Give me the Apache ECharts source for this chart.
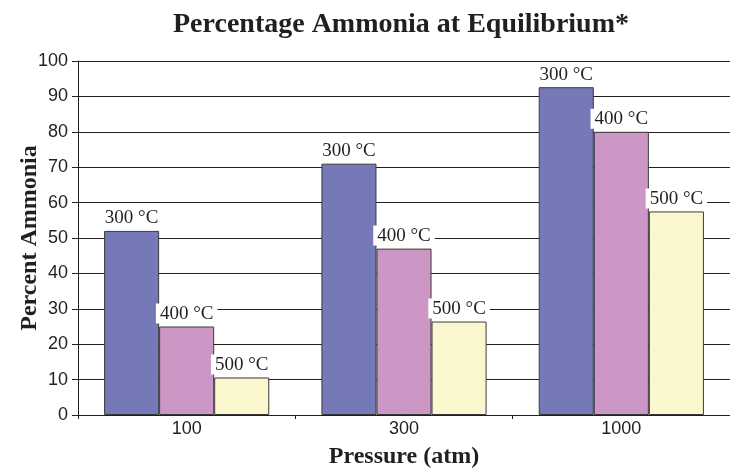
<!DOCTYPE html>
<html><head><meta charset="utf-8">
<script src="https://cdn.jsdelivr.net/npm/echarts@6/dist/echarts.min.js"></script>
<style>html,body{margin:0;padding:0;background:#fff}#c{width:730px;height:468px}</style>
</head><body><div id="c"></div>
<script>
const categories = ['100', '300', '1000'];
const seriesNames = ['300 °C', '400 °C', '500 °C'];
const values300 = [52, 71, 92.6];
const values400 = [25, 47, 80];
const values500 = [10.6, 26.4, 57.5];
const yTicks = [0, 10, 20, 30, 40, 50, 60, 70, 80, 90, 100];

const colors = ['#7579b8', '#cc97c5', '#fbf8d0'];
const serif = '"Liberation Serif", "DejaVu Serif", serif';
const sans = '"Liberation Sans", Arial, sans-serif';

const chart = echarts.init(document.getElementById('c'), null, {renderer: 'canvas'});
const dataSets = [values300, values400, values500];
chart.setOption({
  animation: false,
  backgroundColor: '#fff',
  title: {
    text: 'Percentage Ammonia at Equilibrium*',
    left: 396, top: 6, textAlign: 'center',
    textStyle: {fontFamily: serif, fontWeight: 'bold', fontSize: 28, color: '#231f20'}
  },
  grid: {left: 78, right: 0, top: 61, bottom: 53, containLabel: false, outerBoundsMode: 'none'},
  xAxis: {
    type: 'category', data: categories,
    name: 'Pressure (atm)', nameLocation: 'middle', nameGap: 30, nameMoveOverlap: false,
    nameTextStyle: {fontFamily: serif, fontWeight: 'bold', fontSize: 24, color: '#231f20'},
    axisLine: {lineStyle: {color: '#231f20', width: 1}},
    axisTick: {show: true, length: 4, lineStyle: {color: '#231f20'}},
    axisLabel: {fontFamily: sans, fontSize: 18, color: '#231f20', margin: 5}
  },
  yAxis: {
    type: 'value', min: yTicks[0], max: yTicks[yTicks.length-1], interval: 10,
    name: 'Percent Ammonia', nameLocation: 'middle', nameGap: 36, nameMoveOverlap: false,
    nameTextStyle: {fontFamily: serif, fontWeight: 'bold', fontSize: 24, color: '#231f20'},
    axisLine: {show: true, lineStyle: {color: '#231f20', width: 1}},
    axisTick: {show: true, length: 6, inside: false, lineStyle: {color: '#231f20'}},
    axisLabel: {fontFamily: sans, fontSize: 18, color: '#231f20', margin: 10},
    splitLine: {show: true, lineStyle: {color: '#231f20', width: 1}}
  },
  series: seriesNames.map((n, i) => ({
    type: 'bar', name: n, data: dataSets[i],
    barGap: '0%', barCategoryGap: '24%',
    itemStyle: {color: colors[i], borderColor: '#3a3a3a', borderWidth: 1},
    label: {
      show: true, position: 'top', distance: 3,
      formatter: n,
      fontFamily: serif, fontSize: 19, color: '#231f20',
      backgroundColor: '#fff', padding: [1, 4, 0, 4]
    }
  }))
});
</script></body></html>
